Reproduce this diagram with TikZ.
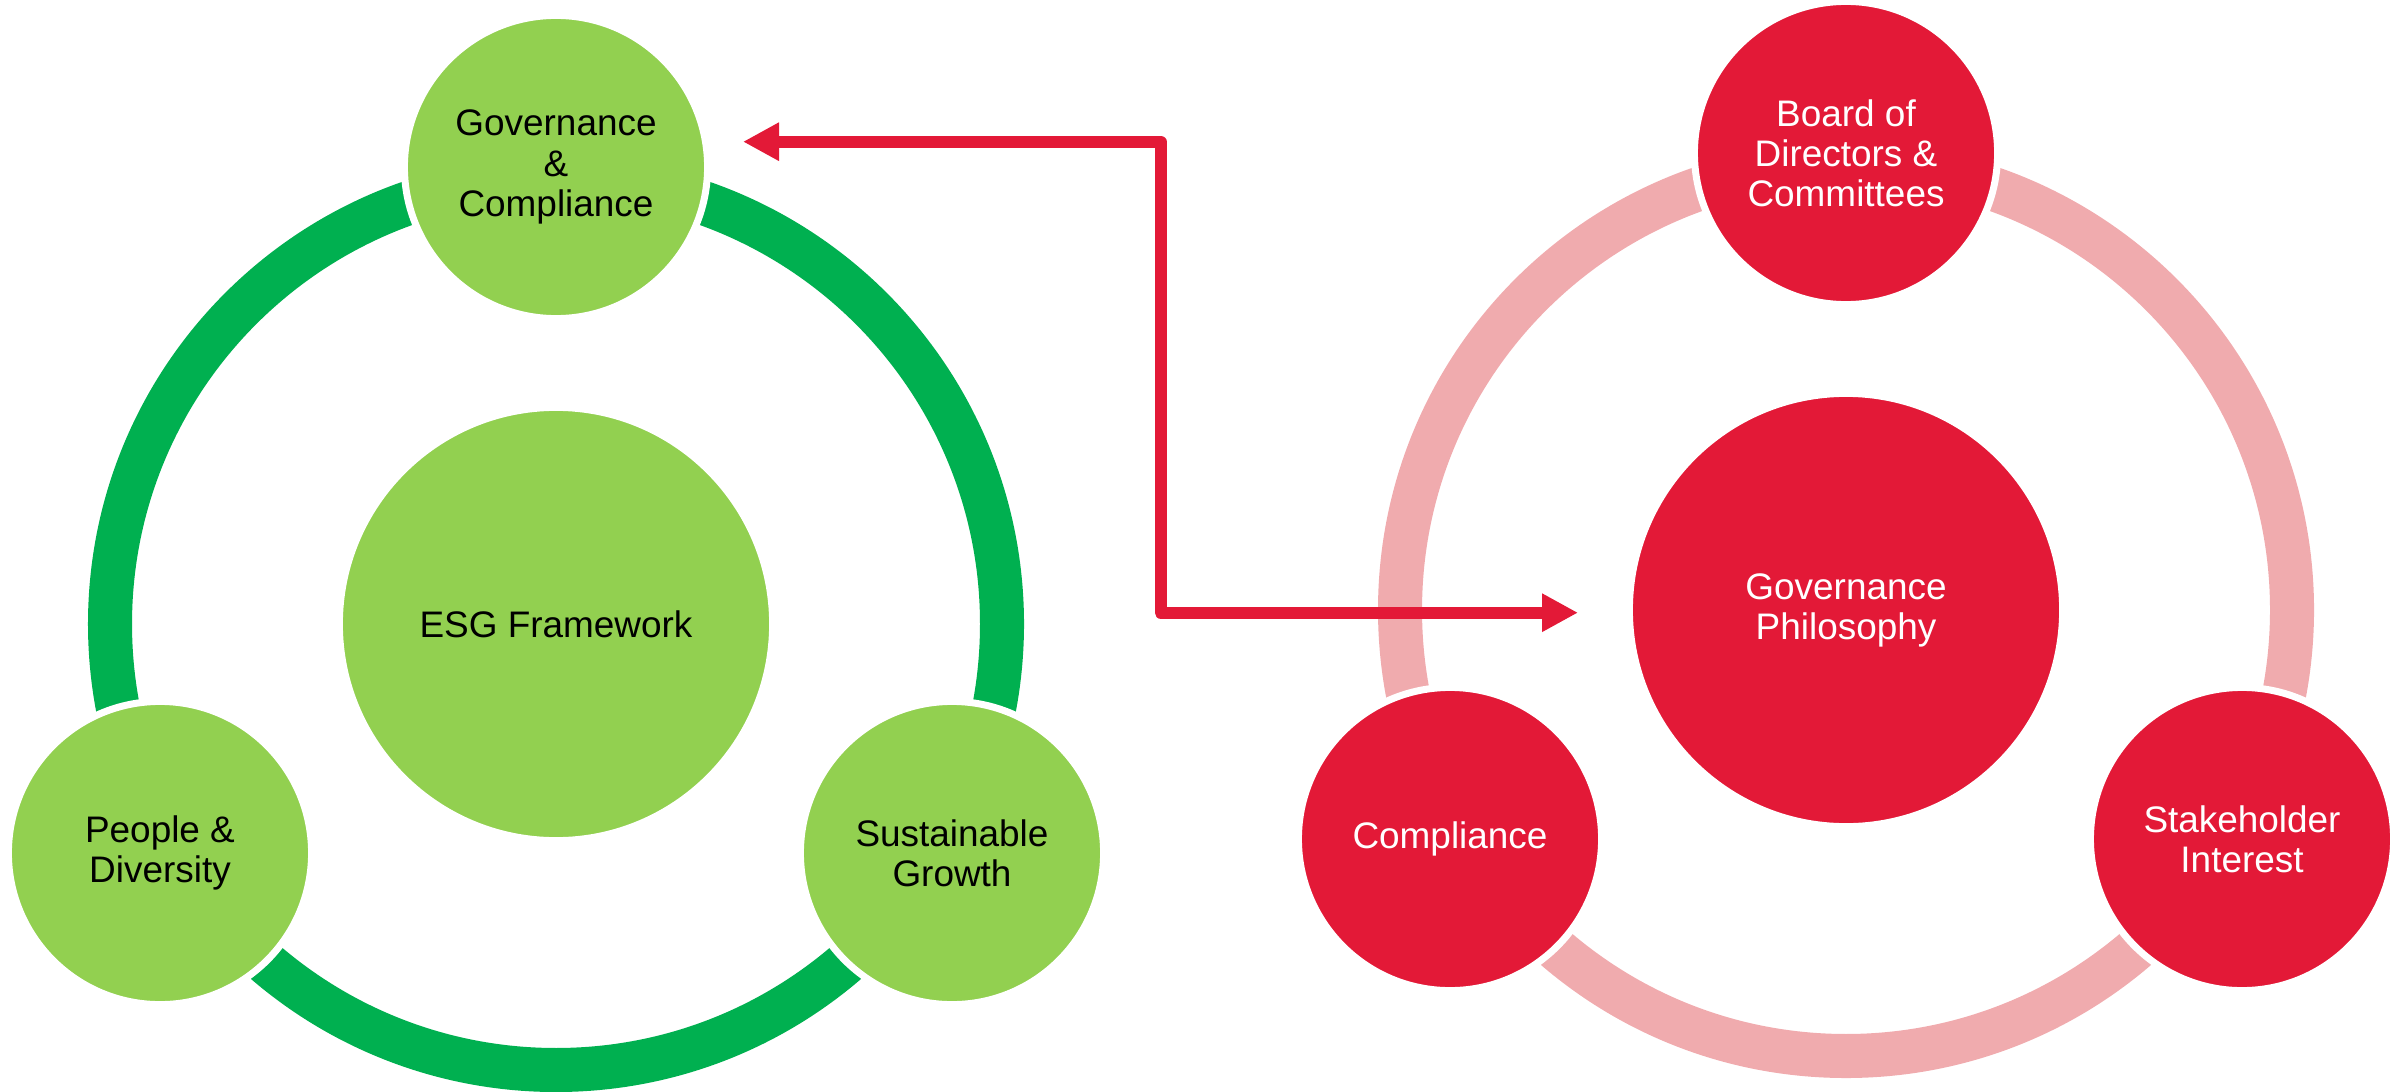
\documentclass[tikz,border=0pt]{standalone}
\usepackage{fontspec}
\setmainfont{Liberation Sans}
\usetikzlibrary{arrows.meta}
\definecolor{lgreen}{HTML}{92D050}
\definecolor{dgreen}{HTML}{00B050}
\definecolor{rred}{HTML}{E31937}
\definecolor{ringpink}{HTML}{F0ABAE}
\begin{document}
\begin{tikzpicture}[x=0.01cm,y=-0.01cm,
  bub/.style={circle, inner sep=0pt, outer sep=0pt, minimum size=3.03cm, draw=white, line width=0.07cm,
    align=center, font=\fontsize{10.5}{11.4}\selectfont},
  big/.style={bub, minimum size=4.33cm},
  gbub/.style={bub, fill=lgreen, text=black},
  rbub/.style={bub, fill=rred, text=white},
  ring/.style={line width=0.44cm},
  link/.style={draw=rred, line width=0.12cm, line join=round,
    {Triangle[length=0.36cm,width=0.36cm]}-{Triangle[length=0.36cm,width=0.36cm]}}
]
\useasboundingbox (0,0) rectangle (2404,1091);
% rings
\draw[ring, dgreen] (556,624) circle (446);
\draw[ring, ringpink] (1846,610) circle (446);
% left diagram
\node[gbub] (gc) at (556,167) {Governance\\\&\\Compliance};
\node[gbub, big] (esg) at (556,624) {ESG Framework};
\node[gbub] (pd) at (160,853) {People \&\\Diversity};
\node[gbub] (sg) at (952,853) {Sustainable\\Growth};
% right diagram
\node[rbub] (bd) at (1846,153) {Board of\\Directors \&\\Committees};
\node[rbub, big] (gp) at (1846,610) {Governance\\Philosophy};
\node[rbub] (co) at (1450,839) {Compliance};
\node[rbub] (si) at (2242,839) {Stakeholder\\Interest};
% connector
\coordinate (a1) at (743,141.7);
\coordinate (a2) at (1578,612.7);
\draw[link] (a1) -- (1160.5,141.7) |- (a2);
\end{tikzpicture}
\end{document}
